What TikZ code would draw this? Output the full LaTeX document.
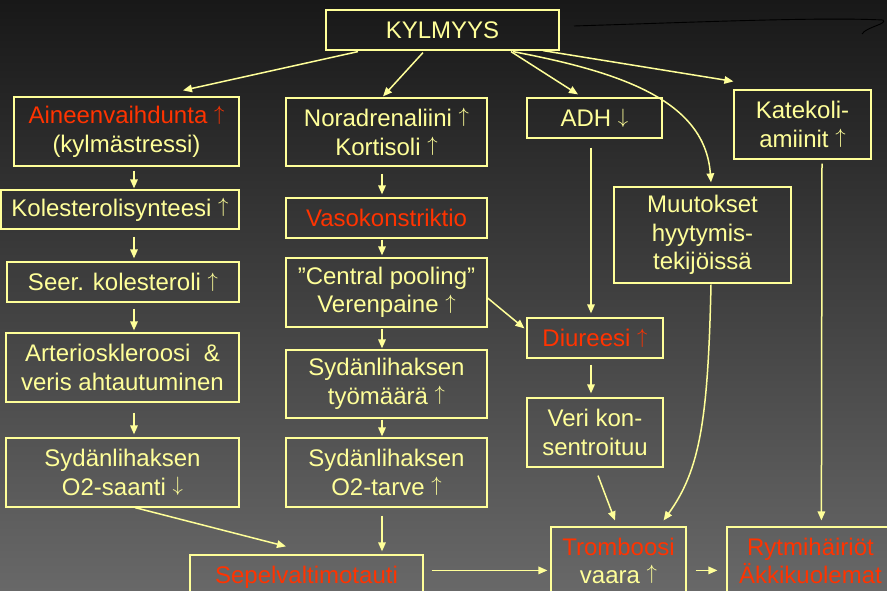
\documentclass[tikz,border=0pt]{standalone}
\usepackage{fontspec}
\setmainfont{Liberation Sans}
\usetikzlibrary{arrows.meta,calc}
\definecolor{txty}{RGB}{255,255,153}
\definecolor{boxy}{RGB}{255,255,153}
\definecolor{txtr}{RGB}{255,51,0}
\definecolor{bgtop}{RGB}{24,24,24}
\definecolor{bgbot}{RGB}{104,104,104}
\newcommand{\myup}{\raisebox{3.6pt}{\fontsize{20}{20}\selectfont$\uparrow$}}
\newcommand{\mydown}{\raisebox{3.6pt}{\fontsize{20}{20}\selectfont$\downarrow$}}
\begin{document}
\begin{tikzpicture}[x=1pt,y=-1pt,
  box/.style={draw=boxy, line width=1.2pt, inner sep=0pt, align=center, text=txty,
              font=\fontsize{24}{28.5}\selectfont},
  plain/.style={text=txty, font=\fontsize{24}{28.5}\selectfont, inner sep=0pt},
  redtxt/.style={text=txtr, font=\fontsize{24}{28.5}\selectfont, inner sep=0pt},
  arr/.style={draw=txty, line width=1.5pt, -{Triangle[length=9pt,width=7.5pt]}},
]
\useasboundingbox (0,0) rectangle (887,591);
\clip (0,0) rectangle (887,591);
\shade[top color=bgtop, bottom color=bgbot] (0,0) rectangle (887,591);

% top
\node[box, minimum width=233pt, minimum height=40pt] (kyl) at (442.5,30) {KYLMYYS};

% row 1
\node[box, minimum width=225pt, minimum height=69pt] (ain) at (126.5,131.5)
  {\textcolor{txtr}{Aineenvaihdunta \myup}\\(kylmästressi)};
\node[box, minimum width=201pt, minimum height=68pt] (nor) at (386.5,132)
  {Noradrenaliini \myup\\Kortisoli \myup};
\node[box, minimum width=135pt, minimum height=40pt] (adh) at (594.5,118) {ADH \mydown};
\node[box, minimum width=137pt, minimum height=69pt] (kat) at (802.5,124.5)
  {Katekoli-\\amiinit \myup};

% row 2
\node[box, minimum width=238pt, minimum height=39pt] (kol) at (120,209.5)
  {Kolesterolisynteesi \myup};
\node[box, minimum width=201pt, minimum height=40pt, text=txtr] (vas) at (386.5,218)
  {Vasokonstriktio};
\node[box, minimum width=177pt, minimum height=96pt] (muu) at (702.5,235)
  {Muutokset\\hyytymis-\\tekijöissä};

% row 3
\node[box, minimum width=232pt, minimum height=40pt] (see) at (123,282)
  {Seer. kolesteroli \myup};
\node[box, minimum width=201pt, minimum height=69pt] (cen) at (386.5,292.5)
  {”Central pooling”\\Verenpaine \myup};
\node[box, minimum width=136pt, minimum height=40pt, text=txtr] (diu) at (595,338)
  {Diureesi \myup};

% row 4
\node[box, minimum width=233pt, minimum height=69pt] (art) at (122.5,367.5)
  {Arterioskleroosi~~\&\\veris ahtautuminen};
\node[box, minimum width=201pt, minimum height=68pt] (tyo) at (386.5,384)
  {Sydänlihaksen\\työmäärä \myup};
\node[box, minimum width=136pt, minimum height=69pt] (ver) at (595,432.5)
  {Veri kon-\\sentroituu};

% row 5
\node[box, minimum width=233pt, minimum height=69pt] (saa) at (122.5,472.5)
  {Sydänlihaksen\\O2-saanti \mydown};
\node[box, minimum width=201pt, minimum height=69pt] (tar) at (386.5,472.5)
  {Sydänlihaksen\\O2-tarve \myup};

% bottom row (cut by the page edge)
\node[box, minimum width=233pt, minimum height=60pt] (sep) at (306.5,585) {};
\node[redtxt, anchor=base] (sept) at (306.5,583) {Sepelvaltimotauti};
\node[box, minimum width=135pt, minimum height=88pt] (tro) at (618.5,571) {};
\node[redtxt, anchor=base] (troa) at (618.5,555) {Tromboosi};
\node[plain, anchor=base] (trob) at (618.5,583) {vaara \myup};
\node[box, minimum width=167pt, minimum height=88pt] (ryt) at (810.5,571) {};
\node[redtxt, anchor=base] (ryta) at (810.5,555) {Rytmihäiriöt};
\node[redtxt, anchor=base] (rytb) at (810.5,583) {Äkkikuolemat};

% arrows from KYLMYYS
\draw[arr] ($(kyl.south)+(-84.5,1)$) -- ($(ain.north)+(56.5,-6)$);
\draw[arr] ($(kyl.south)+(-19.5,2)$) -- ($(nor.north)+(-3.5,-1)$);
\draw[arr] ($(kyl.south)+(68.5,1)$) -- ($(adh.north)+(-16.5,-3)$);
\draw[arr] ($(kyl.south)+(100.5,0)$) -- ($(kat.north west)+(0,-8)$);
\draw[arr] ($(kyl.south)+(70.5,1)$) .. controls (620,72) and (705,100) .. ($(muu.north)+(8.5,-4)$);

% left column
\draw[arr] ($(ain.south)+(7.5,4)$) -- ($(kol.north)+(14,-1)$);
\draw[arr] ($(kol.south)+(14,7)$) -- ($(see.north)+(11,-3)$);
\draw[arr] ($(see.south)+(11,6)$) -- ($(art.north)+(11.5,-2)$);
\draw[arr] ($(art.south)+(11.5,10)$) -- ($(saa.north)+(11.5,-3)$);
\draw[arr] ($(saa.south)+(12.5,0)$) -- ($(sep.north)+(-20.5,-8)$);

% middle column
\draw[arr] ($(nor.south)+(-4.5,7)$) -- ($(vas.north)+(-4.5,-3)$);
\draw[arr] ($(vas.south)+(-4.5,1)$) -- ($(cen.north)+(-4.5,-2)$);
\draw[arr] ($(cen.south)+(-4.5,1)$) -- ($(tyo.north)+(-4.5,-1)$);
\draw[arr] ($(tyo.south)+(-4.5,1)$) -- ($(tar.north)+(-4.5,-1)$);
\draw[arr] ($(tar.south)+(-4.5,8)$) -- ($(sep.north)+(75.5,-3)$);
\draw[arr] ($(cen.east)+(0,5.5)$) -- ($(diu.north west)+(-2,11)$);

% right part
\draw[arr] ($(adh.south)+(-3.5,9)$) -- ($(diu.north)+(-4,-4)$);
\draw[arr] ($(diu.south)+(-4,6)$) -- ($(ver.north)+(-4,-4)$);
\draw[arr] ($(ver.south)+(3,8)$) -- ($(tro.north)+(-3.5,-6)$);
\draw[arr] ($(muu.south)+(8.5,1)$) .. controls (708,420) and (700,470) .. ($(tro.north east)+(-23,-6)$);
\draw[arr] ($(kat.south)+(19.5,4)$) -- ($(ryt.north west)+(95,-6)$);

% bottom row
\draw[arr] ($(sep.north east)+(8,16)$) -- ($(tro.north west)+(-3,44)$);
\draw[arr] ($(tro.north east)+(9,44)$) -- ($(ryt.north west)+(-9,44)$);

% hand-drawn stroke
\draw[black, line width=0.9pt] (574,26) .. controls (700,22) and (820,17) .. (883,20)
  .. controls (888,24) and (866,27) .. (862,34);
\end{tikzpicture}
\end{document}
